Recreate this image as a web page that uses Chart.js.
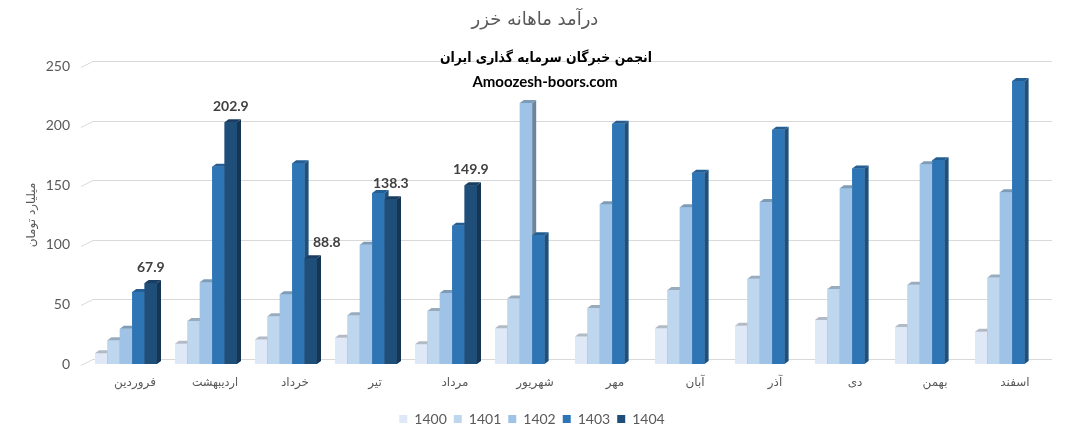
<!DOCTYPE html>
<html>
<head>
<meta charset="utf-8">
<script src="https://cdn.jsdelivr.net/npm/chart.js@4/dist/chart.umd.min.js"></script>
<style>
  body { margin: 0; background: #fff; }
</style>
</head>
<body>
<canvas id="myChart" width="1070" height="432"></canvas>
<script>
const months = ["فروردین", "اردیبهشت", "خرداد", "تیر", "مرداد", "شهریور", "مهر", "آبان", "آذر", "دی", "بهمن", "اسفند"];
const years = ["1400", "1401", "1402", "1403", "1404"];
const y1400 = [9, 17, 20.5, 22, 16.5, 30, 23, 30, 32, 37, 31, 27];
const y1401 = [20, 36, 40, 41, 44.5, 55, 47, 62, 71.5, 63, 66.5, 72.5];
const y1402 = [29.5, 68.5, 58.5, 100, 59.5, 219, 134, 131.5, 136, 147.5, 167.5, 144];
const y1403 = [60.5, 165.5, 168.5, 143.5, 116, 108, 201.5, 160.5, 196.5, 164, 171, 237.5];
const y1404 = [67.9, 202.9, 88.8, 138.3, 149.9, null, null, null, null, null, null, null];
const yTicks = [0, 50, 100, 150, 200, 250];
const colors = ["#dee8f6", "#bed7ee", "#9ec3e6", "#2e75b6", "#1f4e79"];

const mainTitle = "درآمد ماهانه خزر";
const boxLine1 = "انجمن خبرگان سرمایه گذاری ایران";
const boxLine2 = "Amoozesh-boors.com";
const yTitle = "میلیارد تومان";

const latin = "Lato, 'DejaVu Sans', sans-serif";
const persian = "'DejaVu Sans', sans-serif";

// darken a hex colour
function shade(hex, f) {
  const n = parseInt(hex.slice(1), 16);
  const r = Math.round(((n >> 16) & 255) * f);
  const g = Math.round(((n >> 8) & 255) * f);
  const b = Math.round((n & 255) * f);
  return "rgb(" + r + "," + g + "," + b + ")";
}

const D = 4; // 3d depth in px

const threeD = {
  id: "threeD",
  beforeDatasetsDraw(chart) {
    const { ctx, chartArea, scales } = chart;
    ctx.save();
    ctx.strokeStyle = "#d9d9d9";
    ctx.lineWidth = 1;
    yTicks.forEach((v) => {
      const yf = Math.round(scales.y.getPixelForValue(v)) + 0.5;
      ctx.beginPath();
      ctx.moveTo(chartArea.left - 5, yf + 1);
      ctx.lineTo(chartArea.left + 7, yf - 5);
      ctx.lineTo(chartArea.right + 6, yf - 5);
      ctx.stroke();
    });
    ctx.restore();
  },
  afterDatasetsDraw(chart) {
    const { ctx } = chart;
    ctx.save();
    chart.data.datasets.forEach((ds, i) => {
      const meta = chart.getDatasetMeta(i);
      const c = colors[i];
      meta.data.forEach((bar, j) => {
        if (ds.data[j] == null) return;
        const p = bar.getProps(["x", "y", "base", "width"], true);
        const l = p.x - p.width / 2;
        const r = p.x + p.width / 2;
        // front
        ctx.fillStyle = c;
        ctx.fillRect(l, p.y, r - l, p.base - p.y);
        // side
        ctx.fillStyle = shade(c, 0.68);
        ctx.beginPath();
        ctx.moveTo(r, p.y);
        ctx.lineTo(r + D, p.y - D + 1);
        ctx.lineTo(r + D, p.base - D + 1);
        ctx.lineTo(r, p.base);
        ctx.closePath();
        ctx.fill();
        // top
        ctx.fillStyle = shade(c, 0.8);
        ctx.beginPath();
        ctx.moveTo(l, p.y);
        ctx.lineTo(l + D, p.y - D + 1);
        ctx.lineTo(r + D, p.y - D + 1);
        ctx.lineTo(r, p.y);
        ctx.closePath();
        ctx.fill();
      });
    });
    // value labels on 1404, pushed right when the bar before is taller
    const last = chart.getDatasetMeta(4);
    const prev = chart.getDatasetMeta(3);
    ctx.fillStyle = "#404040";
    ctx.font = "bold 14px " + latin;
    ctx.textAlign = "center";
    ctx.textBaseline = "middle";
    last.data.forEach((bar, j) => {
      if (y1404[j] == null) return;
      const ly = bar.y - 16;
      const dx = prev.data[j].y < ly ? 16 : 0;
      ctx.fillText(y1404[j].toFixed(1), bar.x + dx, ly);
    });
    ctx.restore();
  },
  afterDraw(chart) {
    const { ctx, scales } = chart;
    ctx.save();
    ctx.textAlign = "center";
    ctx.textBaseline = "middle";
    // month labels
    ctx.fillStyle = "#595959";
    ctx.font = "12px " + persian;
    months.forEach((m, i) => {
      ctx.fillText(m, scales.x.getPixelForValue(i) + 9, 383, 46);
    });
    // titles
    ctx.font = "18px " + persian;
    ctx.fillText(mainTitle, 535, 20, 136);
    ctx.fillStyle = "#000";
    ctx.font = "bold 14px " + persian;
    ctx.fillText(boxLine1, 546, 58, 212);
    ctx.font = "bold 15px " + latin;
    ctx.fillText(boxLine2, 545, 82, 166);
    ctx.restore();
  }
};

const datasets = [y1400, y1401, y1402, y1403, y1404].map((d, i) => ({
  label: years[i],
  data: d,
  backgroundColor: colors[i],
  borderWidth: 0,
  barPercentage: 1,
  categoryPercentage: 0.775
}));

const config = {
  type: "bar",
  data: { labels: months, datasets: datasets },
  options: {
    responsive: false,
    animation: false,
    layout: { padding: { left: 18, right: 24, top: 66, bottom: -4 } },
    plugins: {
      tooltip: { enabled: false },
      legend: {
        position: "bottom",
        labels: {
          boxWidth: 8,
          boxHeight: 8,
          padding: 7,
          color: "#595959",
          font: { size: 14, family: latin }
        }
      }
    },
    scales: {
      x: {
        grid: { display: false },
        border: { display: false },
        ticks: { display: false },
        afterFit: (s) => { s.height = 41; }
      },
      y: {
        min: 0,
        max: 250,
        ticks: {
          stepSize: 50,
          padding: 16,
          color: "#595959",
          font: { size: 14, family: latin }
        },
        grid: { display: false, drawTicks: false },
        border: { display: false },
        title: {
          display: true,
          text: yTitle,
          color: "#595959",
          font: { size: 12, family: persian },
          padding: 7
        },
        afterFit: (s) => { s.width = 68; }
      }
    }
  },
  plugins: [threeD]
};

new Chart(document.getElementById("myChart"), config);
</script>
</body>
</html>
